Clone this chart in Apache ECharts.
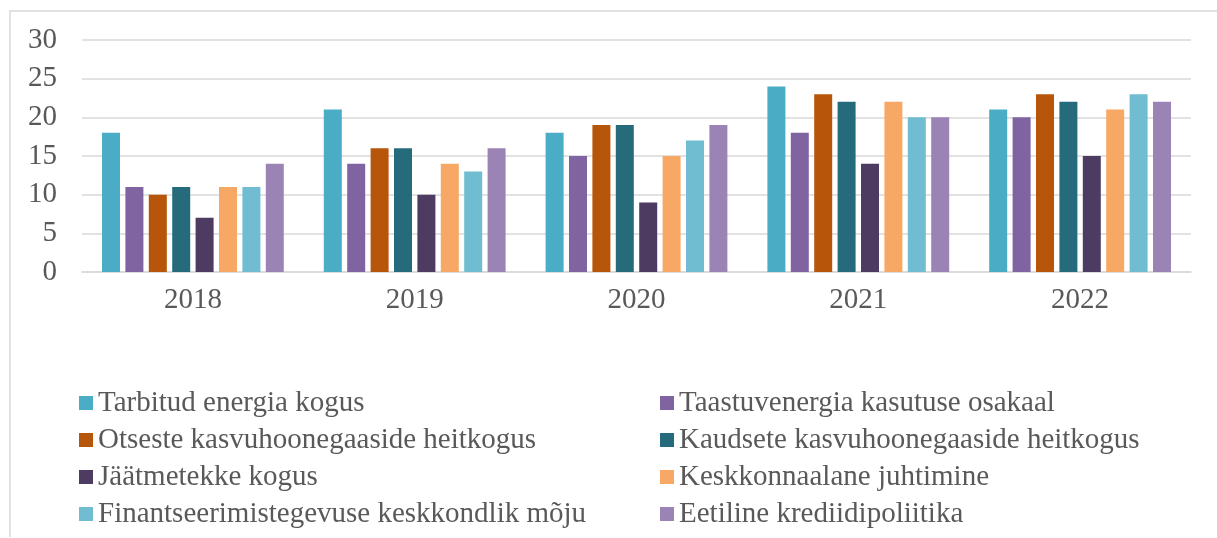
<!DOCTYPE html>
<html>
<head>
<meta charset="utf-8">
<script src="https://cdn.jsdelivr.net/npm/echarts@6/dist/echarts.min.js"></script>
<style>
  html, body { margin: 0; padding: 0; background: #fff; }
  #chart { width: 1217px; height: 538px; }
</style>
</head>
<body>
<div id="chart"></div>
<script>
// data
var years = ['2018', '2019', '2020', '2021', '2022'];
var seriesNames = [
    'Tarbitud energia kogus',
    'Taastuvenergia kasutuse osakaal',
    'Otseste kasvuhoonegaaside heitkogus',
    'Kaudsete kasvuhoonegaaside heitkogus',
    'Jäätmetekke kogus',
    'Keskkonnaalane juhtimine',
    'Finantseerimistegevuse keskkondlik mõju',
    'Eetiline krediidipoliitika'
];
var energia = [18, 21, 18, 24, 21];
var taastuv = [11, 14, 15, 18, 20];
var otsesed = [10, 16, 19, 23, 23];
var kaudsed = [11, 16, 19, 22, 22];
var jaatmed = [7, 10, 9, 14, 15];
var juhtimine = [11, 14, 15, 22, 21];
var finants = [11, 13, 17, 20, 23];
var krediit = [14, 16, 19, 20, 22];

var colors = ['#4BACC6', '#8064A2', '#B7560A', '#266B7B', '#4D3B62', '#F8A865', '#70BCD0', '#9B84B5'];
var allData = [energia, taastuv, otsesed, kaudsed, jaatmed, juhtimine, finants, krediit];

var font = '"Liberation Serif", "Times New Roman", serif';
var textColor = '#595959';

var myChart = echarts.init(document.getElementById('chart'));

var series = [];
for (var i = 0; i < seriesNames.length; i++) {
    series.push({
        name: seriesNames[i],
        type: 'bar',
        data: allData[i],
        barWidth: 18,
        barGap: '30%',
        itemStyle: { color: colors[i] }
    });
}

var legendCommon = {
    orient: 'vertical',
    top: 383,
    itemWidth: 14,
    itemHeight: 14,
    itemGap: 7,
    icon: 'rect',
    textStyle: { fontFamily: font, fontSize: 29, color: textColor, lineHeight: 30 }
};

option = {
    color: colors,
    animation: false,
    grid: { left: 82, right: 26, top: 40, bottom: 266 },
    legend: [
        Object.assign({}, legendCommon, { left: 74, data: [seriesNames[0], seriesNames[2], seriesNames[4], seriesNames[6]] }),
        Object.assign({}, legendCommon, { left: 655, data: [seriesNames[1], seriesNames[3], seriesNames[5], seriesNames[7]] })
    ],
    xAxis: {
        type: 'category',
        data: years,
        axisTick: { show: false },
        axisLine: { lineStyle: { color: '#d9d9d9', width: 1.5 } },
        axisLabel: { fontFamily: font, fontSize: 29, color: textColor, margin: 14 }
    },
    yAxis: {
        type: 'value',
        min: 0,
        max: 30,
        interval: 5,
        axisLine: { show: false },
        axisTick: { show: false },
        splitLine: { lineStyle: { color: '#d9d9d9', width: 1.5 } },
        axisLabel: { fontFamily: font, fontSize: 29, color: textColor, margin: 25 }
    },
    graphic: [
        { type: 'line', shape: { x1: 9, y1: 11, x2: 1217, y2: 11 }, style: { stroke: '#d9d9d9', lineWidth: 1.5 } },
        { type: 'line', shape: { x1: 10, y1: 11, x2: 10, y2: 537 }, style: { stroke: '#d9d9d9', lineWidth: 1.5 } }
    ],
    series: series
};

myChart.setOption(option);
</script>
</body>
</html>
